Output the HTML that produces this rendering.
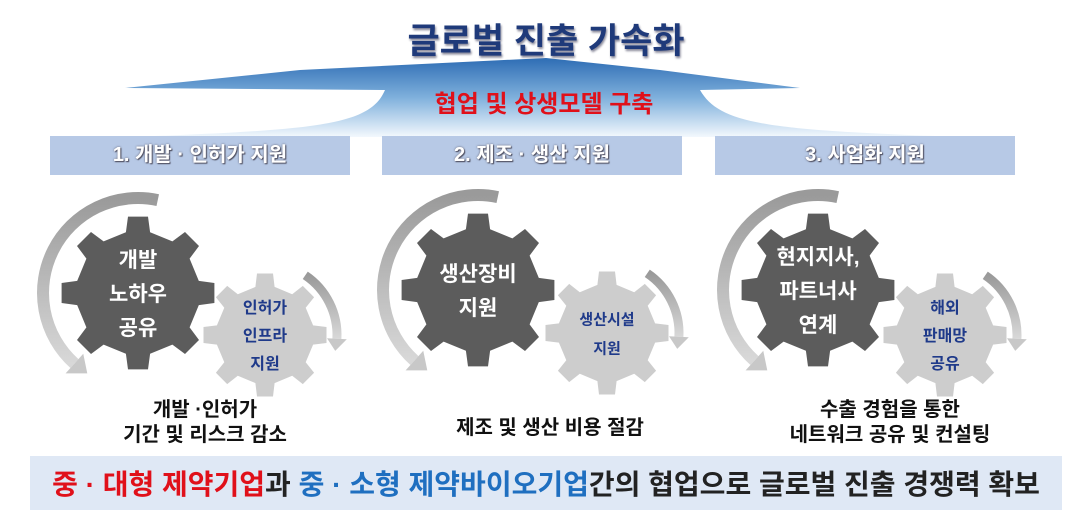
<!DOCTYPE html>
<html><head><meta charset="utf-8"><style>
body{margin:0;width:1092px;height:527px;background:#fff;overflow:hidden;position:relative;font-family:"Liberation Sans","Noto Sans CJK KR",sans-serif}
.t{position:absolute;font-weight:bold;white-space:nowrap}
.h{position:absolute;top:136px;height:39px;background:#b7c9e6;color:#fff;font-size:20px;font-weight:bold;text-align:center;line-height:39px;text-shadow:0 0 2px #667,1px 1px 1px #445}
</style></head><body>
<svg width="1092" height="527" style="position:absolute;left:0;top:0">
<defs>
<linearGradient id="m" x1="0" y1="0" x2="0" y2="1"><stop offset="0" stop-color="#2e6db4"/><stop offset="0.5" stop-color="#7fb0dc"/><stop offset="1" stop-color="#f3f8fd"/></linearGradient>
<linearGradient id="ag" x1="0" y1="0" x2="0" y2="1"><stop offset="0" stop-color="#9a9a9a"/><stop offset="1" stop-color="#d8d8d8"/></linearGradient>
</defs>
<path d="M546,58 L660,70 L800,88 L700,90 C720,125 770,130 960,137 L130,137 C320,130 370,125 385,90 L125,88 L300,70 Z" fill="url(#m)"/>
<g id="gears"></g>
</svg>
<div class="t" style="left:0;width:1092px;text-align:center;top:13px;font-size:35px;color:#1f3a7a;text-shadow:1px 2px 2px #889">글로벌 진출 가속화</div>
<div class="t" style="left:0;width:1092px;text-align:center;top:84px;font-size:24px;color:#e0101a;margin-left:-2px">협업 및 상생모델 구축</div>
<div class="h" style="left:50px;width:300px">1. 개발 ·  인허가 지원</div>
<div class="h" style="left:382px;width:300px">2. 제조 · 생산 지원</div>
<div class="h" style="left:715px;width:300px">3. 사업화 지원</div>
<div class="t" style="left:100px;width:210px;text-align:center;top:398px;font-size:20px;line-height:25px;color:#111">개발 ·인허가<br>기간 및 리스크 감소</div>
<div class="t" style="left:430px;width:240px;text-align:center;top:411px;font-size:20px;color:#111">제조 및 생산 비용 절감</div>
<div class="t" style="left:740px;width:300px;text-align:center;top:398px;font-size:20px;line-height:25px;color:#111">수출 경험을 통한<br>네트워크 공유 및 컨설팅</div>
<div style="position:absolute;left:30px;top:456px;width:1032px;height:54px;background:#dfe8f5"></div>
<div class="t" style="left:30px;width:1032px;text-align:center;top:463px;font-size:28px;color:#222"><span style="color:#e0101a">중 · 대형 제약기업</span>과 <span style="color:#1f6fc0">중 · 소형 제약바이오기업</span>간의 협업으로 글로벌 진출 경쟁력 확보</div>
<script>
function gear(cx,cy,ro,ri,n,fill){let p=[];for(let i=0;i<n;i++){let a=i*2*Math.PI/n,w=Math.PI/n;const pts=[[ri,a-w*0.5],[ro,a-w*0.33],[ro,a+w*0.33],[ri,a+w*0.5]];pts.forEach(([r,t])=>p.push((cx+r*Math.sin(t)).toFixed(1)+','+(cy-r*Math.cos(t)).toFixed(1)));}
return '<polygon points="'+p.join(' ')+'" fill="'+fill+'"/>';}
function arc(cx,cy,r,a1,a2,w,col){const P=a=>[cx+r*Math.cos(a),cy+r*Math.sin(a)];let s=P(a1),e=P(a2);let d=a2-a1;let large=Math.abs(d)>Math.PI?1:0,sw=d>0?1:0;
let dd=d>0?0.17:-0.17;let e2=[cx+r*Math.cos(a2+dd),cy+r*Math.sin(a2+dd)];
let nx=Math.cos(a2),ny=Math.sin(a2);
return '<path d="M'+s[0]+','+s[1]+' A'+r+','+r+' 0 '+large+' '+sw+' '+e[0]+','+e[1]+'" stroke="url(#ag)" stroke-width="'+w+'" fill="none"/>'+
'<polygon points="'+(e[0]+nx*w*1.1)+','+(e[1]+ny*w*1.1)+' '+(e[0]-nx*w*1.1)+','+(e[1]-ny*w*1.1)+' '+e2[0]+','+e2[1]+'" fill="'+col+'"/>';}
const R=Math.PI/180;
let g='';
const P=[[138,293,265,335],[478,290,607,333],[818,290,945,335]];
const big=[["개발","노하우","공유"],["생산장비","지원"],["현지지사,","파트너사","연계"]];
const sm=[["인허가","인프라","지원"],["생산시설","지원"],["해외","판매망","공유"]];
P.forEach(([bx,by,sx,sy],k)=>{
g+=arc(bx,by,95,-78*R,-228*R,12,'#c8c8c8');
g+=arc(sx,sy,72,-56*R,3*R,9,'#c8c8c8');
g+=gear(bx,by,77,62,8,'#5c5c5c');
g+=gear(sx,sy,62,49,8,'#cdcdcd');
let L=big[k],lh=34,y0=by-(L.length-1)*lh/2+8;
L.forEach((t,i)=>g+='<text x="'+bx+'" y="'+(y0+i*lh)+'" text-anchor="middle" font-size="21" font-weight="bold" fill="#fff" font-family="Liberation Sans,Noto Sans CJK KR,sans-serif">'+t+'</text>');
let S=sm[k],sh=S.length==3?28:29,fs=S.length==3?16:15,y1=sy-(S.length-1)*sh/2+6;
S.forEach((t,i)=>g+='<text x="'+sx+'" y="'+(y1+i*sh)+'" text-anchor="middle" font-size="'+fs+'" font-weight="bold" fill="#1f3a8a" font-family="Liberation Sans,Noto Sans CJK KR,sans-serif">'+t+'</text>');
});
document.getElementById('gears').innerHTML=g;
</script>
</body></html>
